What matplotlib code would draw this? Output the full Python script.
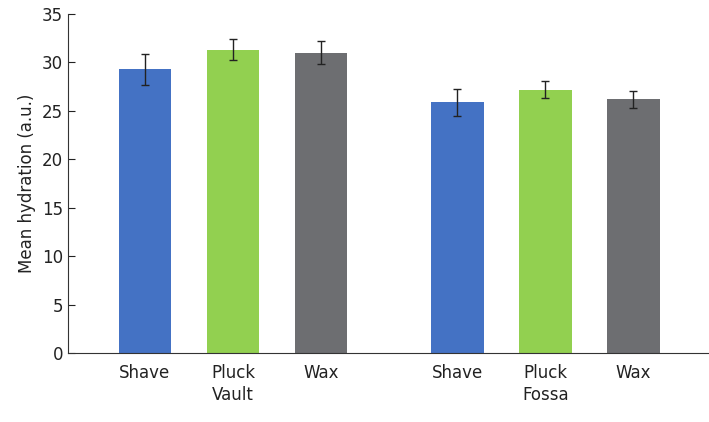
import matplotlib
matplotlib.use("Agg")
import matplotlib.pyplot as plt

groups = ["Vault", "Fossa"]
methods = ["Shave", "Pluck", "Wax"]
values = [29.3, 31.3, 31.0, 25.9, 27.2, 26.2]
errors = [1.6, 1.1, 1.2, 1.4, 0.9, 0.9]
colors = ["#4472C4", "#92D050", "#6D6E71"]

pos = [0, 1, 2, 3.55, 4.55, 5.55]
fig = plt.figure(figsize=(7.09, 4.22), dpi=100)
ax = fig.add_axes([68/709, 69/422, 1-68/709, (353-14)/422])
ax.bar(pos, values, width=0.6, color=colors*2, yerr=errors,
       error_kw=dict(ecolor="#222222", elinewidth=1, capsize=3, capthick=1))
ax.set_xlim(-0.875, 6.41)
ax.set_ylim(0, 35)
ax.set_yticks(range(0, 36, 5))
ax.set_xticks(pos)
ax.set_xticklabels(methods*2, fontsize=12, color="#222222")
ax.tick_params(axis="x", length=0, pad=8)
ax.tick_params(axis="y", labelsize=12, colors="#222222", length=5, direction="in")
for s in ["top", "right"]:
    ax.spines[s].set_visible(False)
for s in ["left", "bottom"]:
    ax.spines[s].set_color("#333333")
ax.set_ylabel("Mean hydration (a.u.)", fontsize=12, color="#222222")
for g, c in zip(groups, [1, 4.55]):
    ax.text(c, -3.4, g, ha="center", va="top", fontsize=12, color="#222222",
            transform=ax.transData)
fig.savefig("out.png", dpi=100)
